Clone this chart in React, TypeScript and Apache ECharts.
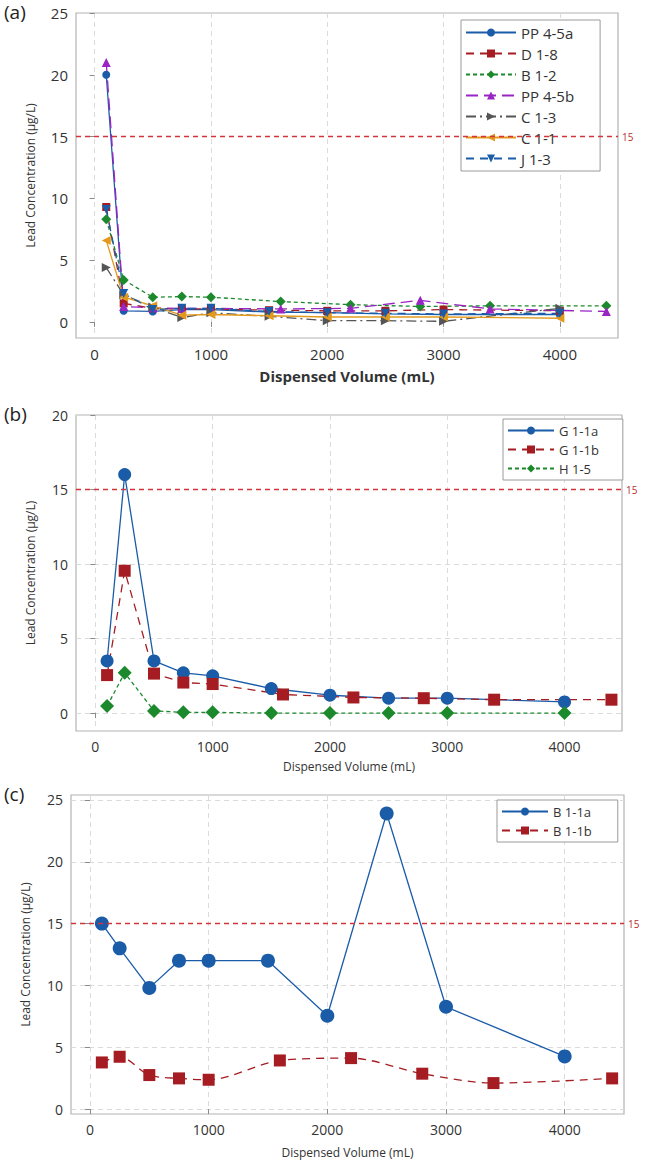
import React, { useEffect, useRef } from "react";
import * as echarts from "echarts";

const FONT = "'Open Sans', 'Noto Sans', sans-serif";

// ---------- Panel (a) ----------
const aNames = ["PP 4-5a", "D 1-8", "B 1-2", "PP 4-5b", "C 1-3", "C 1-1", "J 1-3"];
const aXMain = [100, 250, 500, 750, 1000, 1500, 2000, 2500, 3000, 4000];
const aXAlt = [100, 250, 500, 750, 1000, 1600, 2200, 2800, 3400, 4400];
const aPP45a = [20, 0.9, 0.85, 1.0, 1.0, 0.8, 0.75, 0.65, 0.6, 0.6];
const aD18 = [9.3, 1.5, 1.1, 1.05, 1.05, 0.95, 0.9, 0.9, 1.0, 0.9];
const aB12 = [8.3, 3.4, 2.0, 2.05, 2.0, 1.65, 1.4, 1.25, 1.3, 1.3];
const aPP45b = [21, 1.25, 1.15, 1.1, 1.1, 1.05, 1.1, 1.75, 1.05, 0.85];
const aC13 = [4.4, 2.2, 1.2, 0.35, 0.75, 0.45, 0.1, 0.1, 0.05, 1.1];
const aC11 = [6.6, 2.0, 1.3, 0.55, 0.6, 0.5, 0.4, 0.4, 0.4, 0.3];
const aJ13 = [9.1, 2.3, 1.0, 1.1, 1.1, 0.85, 0.75, 0.7, 0.65, 0.7];

// ---------- Panel (b) ----------
const bNames = ["G 1-1a", "G 1-1b", "H 1-5"];
const bXMain = [100, 250, 500, 750, 1000, 1500, 2000, 2500, 3000, 4000];
const bXAlt = [100, 250, 500, 750, 1000, 1600, 2200, 2800, 3400, 4400];
const bG11a = [3.5, 16, 3.5, 2.7, 2.5, 1.65, 1.2, 1.0, 1.0, 0.75];
const bG11b = [2.55, 9.55, 2.65, 2.05, 1.95, 1.25, 1.05, 1.0, 0.9, 0.9];
const bH15 = [0.47, 2.7, 0.15, 0.05, 0.05, 0, 0, 0, 0, 0];

// ---------- Panel (c) ----------
const cNames = ["B 1-1a", "B 1-1b"];
const cXMain = [100, 250, 500, 750, 1000, 1500, 2000, 2500, 3000, 4000];
const cXAlt = [100, 250, 500, 750, 1000, 1600, 2200, 2800, 3400, 4400];
const cB11a = [15, 13, 9.8, 12, 12, 12, 7.55, 23.9, 8.27, 4.26];
const cB11b = [3.77, 4.23, 2.75, 2.48, 2.37, 3.93, 4.12, 2.86, 2.1, 2.48];

const xTicks = [0, 1000, 2000, 3000, 4000];
const yTicksA = [0, 5, 10, 15, 20, 25];
const yTicksB = [0, 5, 10, 15, 20];
const yTicksC = [0, 5, 10, 15, 20, 25];
const ACTION_LEVEL = 15;

const BLUE = "#1b5ca8";
const RED = "#a51d22";
const GREEN = "#1c8a2c";
const PURPLE = "#9a24c4";
const GREY = "#555555";
const ORANGE = "#e39a1c";

const pairs = (xs: number[], ys: number[]) => xs.map((x, i) => [x, ys[i]]);

function line(
  name: string,
  xs: number[],
  ys: number[],
  gi: number,
  color: string,
  symbol: string,
  size: number,
  dash: any,
  rotate = 0,
  smooth: any = false
) {
  return {
    type: "line",
    name,
    xAxisIndex: gi,
    yAxisIndex: gi,
    data: pairs(xs, ys),
    symbol,
    symbolSize: size,
    symbolRotate: rotate,
    smooth,
    itemStyle: { color },
    lineStyle: { color, width: 1.3, type: dash },
    z: 3,
  };
}

function refLine(gi: number) {
  return {
    type: "line",
    name: "ref" + gi,
    xAxisIndex: gi,
    yAxisIndex: gi,
    data: [],
    silent: true,
    markLine: {
      symbol: "none",
      silent: true,
      lineStyle: { color: "#d2343a", type: [5, 4], width: 1.3 },
      label: {
        show: true,
        position: "end",
        formatter: String(ACTION_LEVEL),
        color: "#b5302c",
        fontSize: 10,
        fontFamily: FONT,
        distance: 4,
      },
      data: [{ yAxis: ACTION_LEVEL }],
    },
  };
}

const plain = (v: number) => String(v);

function xAxis(gi: number, min: number, max: number, nameSize: number, bold: boolean, nameGap: number, labelSize: number) {
  return {
    type: "value",
    gridIndex: gi,
    min,
    max,
    name: "Dispensed Volume (mL)",
    nameLocation: "middle",
    nameGap,
    nameTextStyle: { fontSize: nameSize, fontWeight: bold ? "bold" : "normal", color: "#333", fontFamily: FONT },
    axisLine: { show: false },
    axisTick: { show: true, length: 5, inside: false, customValues: xTicks, lineStyle: { color: "#8a8a8a" } },
    axisLabel: {
      fontSize: labelSize,
      color: "#333",
      fontFamily: FONT,
      margin: 8,
      customValues: xTicks,
      formatter: plain,
    },
    splitLine: { show: true, lineStyle: { color: "#dadada", type: [5, 4], width: 1 } },
  };
}

function yAxis(gi: number, min: number, max: number, ticks: number[], gridY: boolean, labelSize: number, nameGap: number) {
  return {
    type: "value",
    gridIndex: gi,
    min,
    max,
    name: "Lead Concentration (µg/L)",
    nameLocation: "middle",
    nameGap,
    nameTextStyle: { fontSize: 12, color: "#333", fontFamily: FONT },
    axisLine: { show: false },
    axisTick: { show: true, length: 5, inside: false, customValues: ticks, lineStyle: { color: "#8a8a8a" } },
    axisLabel: {
      fontSize: labelSize,
      color: "#333",
      fontFamily: FONT,
      margin: 8,
      customValues: ticks,
      formatter: plain,
    },
    splitLine: { show: gridY, lineStyle: { color: "#dadada", type: [5, 4], width: 1 } },
  };
}

function legend(names: string[], left: number, top: number, fontSize: number, itemGap: number, width: number, padRight: number) {
  return {
    data: names,
    orient: "vertical",
    left,
    top,
    itemWidth: width,
    itemHeight: 10,
    itemGap,
    padding: [5, padRight, 5, 4],
    borderColor: "#9a9a9a",
    borderWidth: 1,
    backgroundColor: "#ffffff",
    textStyle: { fontSize, color: "#333", fontFamily: FONT },
    selectedMode: false,
  };
}

export default function App() {
  const ref = useRef<HTMLDivElement>(null);

  useEffect(() => {
    if (!ref.current) return;
    const chart = echarts.init(ref.current, undefined, { renderer: "svg" });
    const gridStyle = { show: true, borderColor: "#b3b3b3", borderWidth: 1.2, backgroundColor: "transparent" };

    const option: any = {
      animation: false,
      backgroundColor: "#ffffff",
      textStyle: { fontFamily: FONT },
      grid: [
        { left: 76, right: 27, top: 13, height: 325, ...gridStyle },
        { left: 76, right: 23, top: 415, height: 316, ...gridStyle },
        { left: 71, right: 21, top: 795, height: 319, ...gridStyle },
      ],
      xAxis: [
        xAxis(0, -160, 4500, 15, true, 30, 15),
        xAxis(1, -165, 4490, 12, false, 29, 14),
        xAxis(2, -160, 4500, 12, false, 32, 14),
      ],
      yAxis: [
        yAxis(0, -1.3, 25, yTicksA, false, 15, 40),
        yAxis(1, -1.2, 20, yTicksB, true, 14, 40),
        yAxis(2, -0.4, 25.4, yTicksC, true, 14, 40),
      ],
      legend: [
        legend(aNames, 461, 20, 15, 6, 50, 26),
        legend(bNames, 503, 419, 13, 6, 46, 24),
        legend(cNames, 497, 800, 13, 6, 46, 26),
      ],
      graphic: [
        { type: "text", left: 4, top: 2, style: { text: "(a)", fontSize: 19, fill: "#222", fontFamily: FONT } },
        { type: "text", left: 4, top: 404, style: { text: "(b)", fontSize: 19, fill: "#222", fontFamily: FONT } },
        { type: "text", left: 4, top: 784, style: { text: "(c)", fontSize: 19, fill: "#222", fontFamily: FONT } },
      ],
      series: [
        refLine(0),
        refLine(1),
        refLine(2),
        line(aNames[0], aXMain, aPP45a, 0, BLUE, "circle", 8, "solid"),
        line(aNames[1], aXMain, aD18, 0, RED, "rect", 8, [8, 6]),
        line(aNames[2], aXAlt, aB12, 0, GREEN, "diamond", 10, [4, 3]),
        line(aNames[3], aXAlt, aPP45b, 0, PURPLE, "triangle", 9, [12, 6]),
        line(aNames[4], aXMain, aC13, 0, GREY, "triangle", 9, [10, 4, 2, 4], -90),
        line(aNames[5], aXMain, aC11, 0, ORANGE, "triangle", 9, "solid", 90),
        line(aNames[6], aXMain, aJ13, 0, BLUE, "triangle", 9, [8, 6], 180),
        line(bNames[0], bXMain, bG11a, 1, BLUE, "circle", 13, "solid"),
        line(bNames[1], bXAlt, bG11b, 1, RED, "rect", 12, [8, 6]),
        line(bNames[2], bXMain, bH15, 1, GREEN, "diamond", 14, [4, 3]),
        line(cNames[0], cXMain, cB11a, 2, BLUE, "circle", 14, "solid"),
        line(cNames[1], cXAlt, cB11b, 2, RED, "rect", 12, [8, 6], 0, 0.3),
      ],
    };
    chart.setOption(option);
    return () => chart.dispose();
  }, []);

  return (
    <div
      ref={ref}
      style={{ position: "fixed", left: 0, top: 0, width: 645, height: 1162, background: "#fff" }}
    />
  );
}
